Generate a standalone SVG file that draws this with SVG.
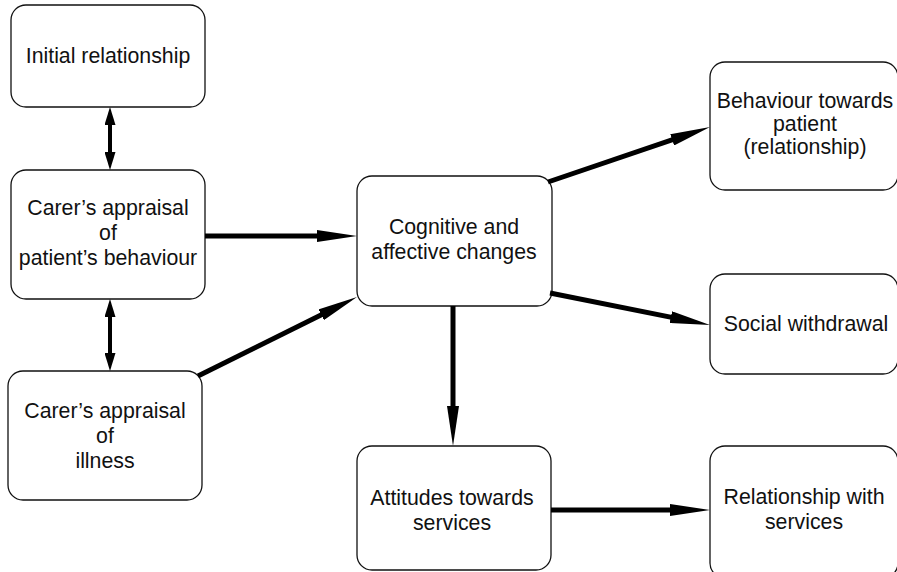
<svg xmlns="http://www.w3.org/2000/svg" width="897" height="572" viewBox="0 0 897 572">
<style>
.box{fill:#fff;stroke:#111;stroke-width:1.3}
.t{font-family:"Liberation Sans",Arial,sans-serif;font-size:21.3px;fill:#111;text-anchor:middle}
.a{stroke:#000;stroke-width:5;fill:none}
.d{stroke:#000;stroke-width:4;fill:none}
</style>
<defs>
<marker id="ah" markerUnits="userSpaceOnUse" markerWidth="40" markerHeight="12" viewBox="0 0 40 12" refX="20" refY="6" orient="auto"><path d="M0,0 L40,6 L0,12 z" fill="#000"/></marker>
<marker id="dh" markerUnits="userSpaceOnUse" markerWidth="18" markerHeight="11" viewBox="0 0 18 11" refX="9" refY="5.5" orient="auto-start-reverse"><path d="M0,0 L18,5.5 L0,11 z" fill="#000"/></marker>
</defs>
<rect width="897" height="572" fill="#fff"/>
<g id="n1"><rect class="box" x="11" y="5" width="194" height="102" rx="15"/><text class="t" x="108" y="63">Initial relationship</text></g>
<g id="n2"><rect class="box" x="11" y="170" width="194" height="129" rx="15"/><text class="t" x="108" y="215">Carer’s appraisal</text><text class="t" x="108" y="240">of</text><text class="t" x="108" y="265">patient’s behaviour</text></g>
<g id="n3"><rect class="box" x="8" y="371" width="194" height="129" rx="15"/><text class="t" x="105" y="418">Carer’s appraisal</text><text class="t" x="105" y="443">of</text><text class="t" x="105" y="468">illness</text></g>
<g id="n4"><rect class="box" x="357" y="176" width="195" height="130" rx="15"/><text class="t" x="454" y="234">Cognitive and</text><text class="t" x="454" y="259">affective changes</text></g>
<g id="n5"><rect class="box" x="710" y="62" width="188" height="128" rx="15"/><text class="t" x="805" y="108">Behaviour towards</text><text class="t" x="805" y="131">patient</text><text class="t" x="805" y="154">(relationship)</text></g>
<g id="n6"><rect class="box" x="710" y="274" width="188" height="100" rx="15"/><text class="t" x="806" y="331">Social withdrawal</text></g>
<g id="n7"><rect class="box" x="357" y="446" width="194" height="124" rx="15"/><text class="t" x="452" y="505">Attitudes towards</text><text class="t" x="452" y="530">services</text></g>
<g id="n8"><rect class="box" x="710" y="446" width="188" height="132" rx="15"/><text class="t" x="804" y="504">Relationship with</text><text class="t" x="804" y="529">services</text></g>
<g id="connectors">
<line class="d" x1="110" y1="116" x2="110" y2="161" marker-start="url(#dh)" marker-end="url(#dh)"/>
<line class="d" x1="110" y1="308" x2="110" y2="362" marker-start="url(#dh)" marker-end="url(#dh)"/>
<line class="a" x1="205" y1="236" x2="337" y2="236" marker-end="url(#ah)"/>
<line class="a" x1="198" y1="376" x2="339.1" y2="305.9" marker-end="url(#ah)"/>
<line class="a" x1="548" y1="182" x2="691.1" y2="133.4" marker-end="url(#ah)"/>
<line class="a" x1="550" y1="293" x2="690.4" y2="321.1" marker-end="url(#ah)"/>
<line class="a" x1="453" y1="306" x2="453" y2="426" marker-end="url(#ah)"/>
<line class="a" x1="551" y1="510" x2="690" y2="510" marker-end="url(#ah)"/>
</g>
</svg>
